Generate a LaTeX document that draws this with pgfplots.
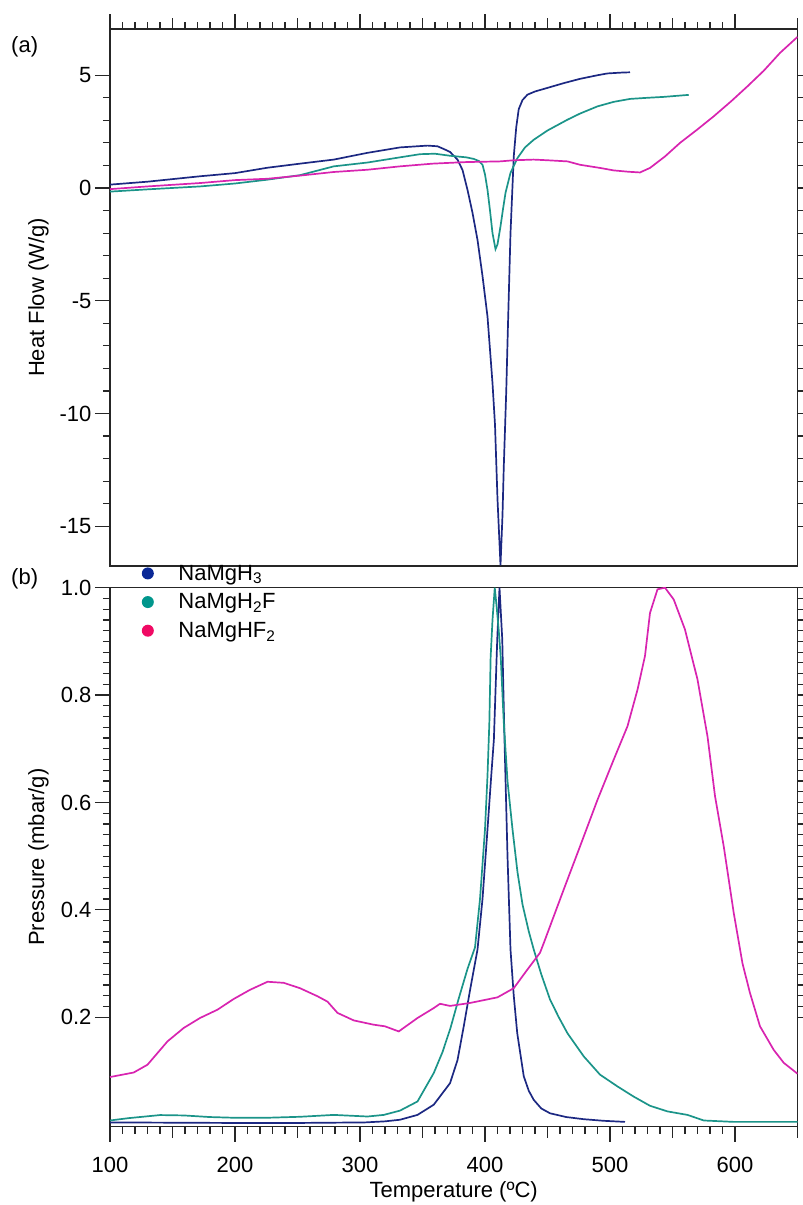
\documentclass[border=0pt]{standalone}
\usepackage{fontspec}
\setmainfont{Liberation Sans}
\usepackage{pgfplots}
\pgfplotsset{compat=1.18}
\definecolor{cblue}{RGB}{28,40,130}
\definecolor{cteal}{RGB}{27,148,137}
\definecolor{cpink}{RGB}{216,36,176}
\definecolor{lblue}{RGB}{10,40,150}
\definecolor{lteal}{RGB}{0,150,140}
\definecolor{lpink}{RGB}{240,10,100}
\newcommand{\fs}{\fontsize{22}{26}\selectfont}
\pgfplotsset{
  mystyle/.style={
    scale only axis, width=687.5pt,
    xmin=100, xmax=650,
    axis line style={line width=1.4pt, black!85},
    tick align=outside,
    major tick length=15pt, minor tick length=7pt,
    every tick/.style={line width=1.2pt, black!85},
    xtick={100,200,...,600},
    minor x tick num=9,
    extra x ticks={150,250,350,450,550,650},
    extra x tick labels={},
    extra x tick style={major tick length=11pt},
    tick label style={font=\fs},
    xticklabel style={yshift=-12pt},
    every axis y label/.style={at={(axis description cs:-0.104,0.5)}, anchor=center, rotate=90, font=\fs},
    ytick pos=both,
  }
}
\begin{document}
\begin{tikzpicture}[x=1pt,y=1pt]
\useasboundingbox (0,0) rectangle (803,-1205);
% ---------------- (a) DSC ----------------
\begin{axis}[mystyle, at={(110pt,-566pt)}, anchor=south west, height=537pt,
  ymin=-16.76, ymax=7.05,
  ytick={-15,-10,-5,0,5}, yticklabels={-15,-10,-5,0,5}, minor y tick num=4,
  xtick pos=upper, xticklabels={},
  ylabel={Heat Flow (W/g)}]
\addplot[cblue, line width=1.7pt] coordinates {
(100,0.15) (130,0.28) (172,0.52) (200,0.66) (226,0.90) (252,1.08) (279,1.26) (306,1.56)
(332,1.80) (354,1.88) (362,1.85) (367,1.73) (372,1.60) (378,1.26) (382,0.80) (386,-0.08)
(390,-1.1) (394,-2.3) (398,-3.9) (402,-5.7) (406,-8.65) (408,-10.5) (410,-13.8) (412.4,-16.73)
(414,-14.5) (415,-12.4) (417,-9.0) (418.2,-6.44) (420.4,-2.0) (423,1.4) (425,2.7) (427,3.5)
(430,3.9) (434,4.14) (440,4.28) (450,4.44) (463,4.65) (476,4.84) (490,5.0) (498,5.08)
(510,5.12) (516,5.13)};
\addplot[cteal, line width=1.7pt] coordinates {
(100,-0.16) (130,-0.06) (172,0.07) (200,0.2) (226,0.37) (252,0.57) (279,0.96) (306,1.13)
(332,1.36) (348,1.50) (360,1.52) (372,1.43) (385,1.36) (391,1.29) (395,1.2) (398,1.03)
(400,0.6) (402,-0.08) (404,-1.0) (406,-2.0) (408.4,-2.71) (410,-2.5) (412.4,-1.7) (414.5,-0.9)
(416.4,-0.22) (420.4,0.67) (426,1.33) (432,1.80) (439,2.14) (450,2.55) (466,3.03) (476,3.30)
(490,3.62) (503,3.82) (516,3.95) (530,4.0) (543,4.04) (563,4.13)};
\addplot[cpink, line width=1.7pt] coordinates {
(100,-0.05) (130,0.07) (172,0.22) (200,0.35) (226,0.41) (252,0.55) (279,0.71) (306,0.81)
(332,0.96) (358,1.08) (385,1.15) (412,1.18) (423,1.23) (439,1.26) (450,1.23) (466,1.18)
(476,1.03) (492,0.89) (503,0.78) (515,0.72) (524,0.69) (532,0.89) (544,1.40) (556,2.0)
(570,2.6) (583,3.18) (597,3.85) (610,4.51) (623,5.2) (636,5.99) (650,6.70)};
\end{axis}
% ---------------- (b) Pressure ----------------
\begin{axis}[mystyle, at={(110pt,-1126.7pt)}, anchor=south west, height=539pt,
  ymin=-0.004, ymax=1.0,
  ytick={0.2,0.4,0.6,0.8,1.0}, yticklabels={0.2,0.4,0.6,0.8,1.0}, minor y tick num=9,
  xtick pos=lower, xticklabels={100,200,300,400,500,600},
  xlabel={Temperature (ºC)}, ylabel={Pressure (mbar/g)},
  every axis x label/.style={at={(axis description cs:0.5,-0.121)}, anchor=center, font=\fs},
  legend style={at={(axis description cs:0.046,1.046)}, anchor=north west, draw=none, fill=none,
    font=\fs, row sep=8pt, inner sep=0pt},
  legend cell align=left,
  legend image code/.code={\fill[#1, draw=none] (0pt,0pt) circle (6pt); \path[draw=none, fill=none] (-6pt,0pt) -- (28.6pt,0pt);}]
\addplot[cblue, line width=1.7pt, forget plot] coordinates {
(100,0.004) (200,0.003) (250,0.003) (304,0.004) (320,0.006) (332,0.009) (346,0.018) (359,0.037)
(372,0.077) (378,0.12) (383,0.183) (388,0.25) (394,0.326) (398,0.42) (402,0.55) (405,0.65)
(407.1,0.717) (409.8,0.904) (411.6,1.0) (413.8,0.904) (415.6,0.717) (418,0.5) (420.4,0.326)
(423,0.24) (425.8,0.17) (431,0.09) (435,0.063) (439,0.046) (445,0.03) (452,0.021) (465,0.014)
(479,0.010) (495,0.007) (512,0.005)};
\addplot[cteal, line width=1.7pt, forget plot] coordinates {
(100,0.0076) (115,0.012) (140,0.0177) (159,0.017) (180,0.014) (199,0.0127) (226,0.0127)
(252,0.0145) (279,0.018) (306,0.015) (319,0.018) (332,0.026) (346,0.043) (359,0.096)
(366,0.135) (372.4,0.18) (379,0.235) (386,0.29) (392,0.33) (396,0.42) (400,0.55) (402,0.65)
(403.5,0.75) (404.5,0.87) (406,0.94) (407.8,1.0) (409.5,0.96) (411,0.92) (412.6,0.87)
(415,0.75) (418,0.64) (422,0.55) (426,0.47) (430,0.41) (435,0.36) (439,0.326) (445,0.28)
(452,0.233) (459,0.20) (466,0.17) (479,0.127) (492,0.093) (506,0.071) (519,0.052) (532,0.035)
(546,0.0245) (562,0.018) (575,0.0076) (599,0.005) (650,0.005)};
\addplot[cpink, line width=1.7pt, forget plot] coordinates {
(100,0.0885) (119,0.097) (130,0.1115) (146,0.155) (159,0.180) (172,0.1985) (186,0.214)
(199,0.234) (212,0.251) (226,0.266) (239,0.264) (252,0.254) (266,0.239) (274,0.229)
(282,0.208) (295,0.194) (311,0.186) (320,0.183) (331,0.1735) (346,0.1985) (359,0.217)
(364,0.225) (372,0.221) (388,0.2265) (410,0.237) (423,0.254) (434,0.289) (444,0.32)
(447,0.338) (463,0.438) (476,0.518) (490,0.605) (503,0.68) (514,0.742) (522,0.81)
(528,0.873) (532,0.953) (538,0.997) (544,1.0) (551,0.978) (560,0.922) (570,0.829)
(578,0.723) (584,0.612) (591,0.518) (599,0.394) (606,0.30) (612,0.245) (620,0.183)
(631,0.139) (639,0.115) (650,0.0947)};
\addlegendimage{lblue}
\addlegendentry{NaMgH\textsubscript{3}}
\addlegendimage{lteal}
\addlegendentry{NaMgH\textsubscript{2}F}
\addlegendimage{lpink}
\addlegendentry{NaMgHF\textsubscript{2}}
\end{axis}
\node[anchor=west, inner sep=0pt, font=\fs] at (11pt,-47pt) {(a)};
\node[anchor=west, inner sep=0pt, font=\fs] at (11pt,-579pt) {(b)};
\end{tikzpicture}
\end{document}
